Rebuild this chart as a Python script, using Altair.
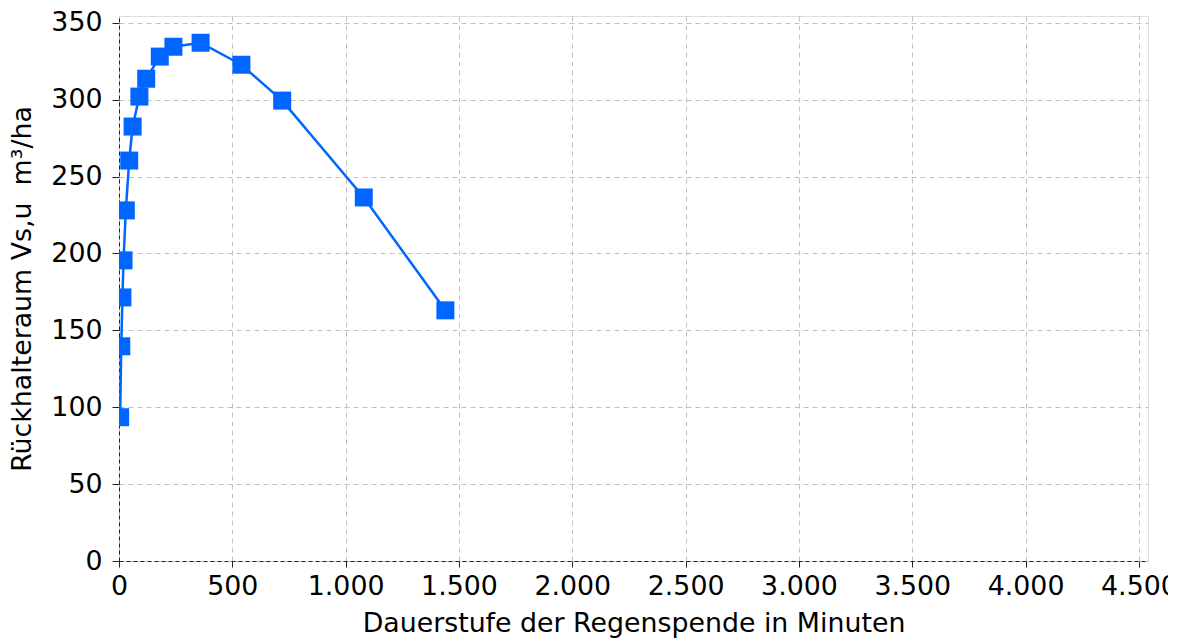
import altair as alt
import pandas as pd

dauer = [5, 10, 15, 20, 30, 45, 60, 90, 120, 180, 240, 360, 540, 720, 1080, 1440]
volumen = [93.5, 139.6, 171.4, 195.5, 228.0, 260.4, 282.5, 302.0, 313.6, 328.0,
           334.4, 337.0, 322.7, 299.4, 236.4, 163.0]
x_ticks = [0, 500, 1000, 1500, 2000, 2500, 3000, 3500, 4000, 4500]
y_ticks = [0, 50, 100, 150, 200, 250, 300, 350]

df = pd.DataFrame({"dauer": dauer, "vol": volumen})

FONT = "DejaVu Sans"
BLUE = "#0066ff"
FS = 26.8

x_enc = alt.X(
    "dauer:Q",
    scale=alt.Scale(domain=[0, 4540], nice=False, zero=True),
    axis=alt.Axis(
        title="Dauerstufe der Regenspende in Minuten",
        values=x_ticks,
        labelExpr="replace(format(datum.value, ','), ',', '.')",
        grid=True,
        gridColor="#c0c0c0",
        gridDash=[5, 4],
        gridWidth=1,
        domainColor="#222222",
        domainDash=[4, 3],
        tickColor="#222222",
        tickSize=6,
        labelPadding=6,
        titlePadding=11,
        labelFontSize=FS,
        titleFontSize=FS,
        labelFont=FONT,
        titleFont=FONT,
        labelColor="black",
        titleColor="black",
        titleFontWeight="normal",
        labelFlush=False,
    ),
)
y_enc = alt.Y(
    "vol:Q",
    scale=alt.Scale(domain=[0, 354.4], nice=False),
    axis=alt.Axis(
        title="Rückhalteraum Vs,u\u00a0 m³/ha",
        values=y_ticks,
        grid=True,
        gridColor="#c0c0c0",
        gridDash=[5, 4],
        gridWidth=1,
        domainColor="#222222",
        domainDash=[4, 3],
        tickColor="#222222",
        tickSize=7,
        labelPadding=10,
        titlePadding=14,
        labelFontSize=FS,
        titleFontSize=FS,
        labelFont=FONT,
        titleFont=FONT,
        labelColor="black",
        titleColor="black",
        titleFontWeight="normal",
        labelFlush=False,
    ),
)

line = alt.Chart(df).mark_line(color=BLUE, strokeWidth=2.5, clip=True).encode(x=x_enc, y=y_enc)
pts = alt.Chart(df).mark_point(shape="square", filled=True, size=324, color=BLUE,
                               opacity=1, clip=True).encode(x=x_enc, y=y_enc)

chart = (line + pts).properties(
    width=1029,
    height=545,
    autosize=alt.AutoSizeParams(type="none"),
    padding={"left": 111, "top": 8, "right": 20, "bottom": 110},
).configure_view(stroke=None).configure(font=FONT)

chart.save("out.html", embed_options={"renderer": "svg", "actions": False})
